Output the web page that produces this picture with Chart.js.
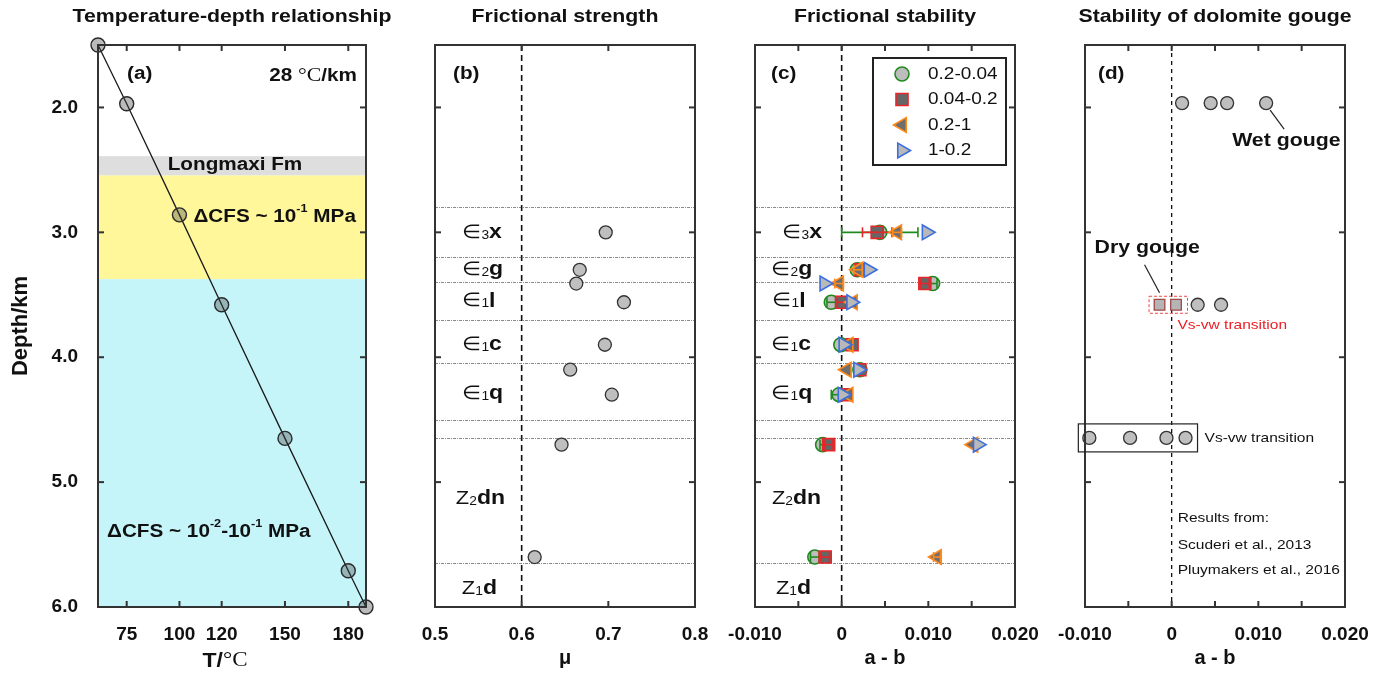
<!DOCTYPE html>
<html>
<head>
<meta charset="utf-8">
<script src="https://cdn.jsdelivr.net/npm/chart.js@4.4.0/dist/chart.umd.min.js"></script>
<style>
  body { margin: 0; background: #fff; width: 1389px; height: 674px; overflow: hidden; position: relative; }
  canvas { position: absolute; left: 0; top: 0; }
</style>
</head>
<body>
<canvas id="pa" width="1389" height="674"></canvas>
<canvas id="pb" width="1389" height="674"></canvas>
<canvas id="pc" width="1389" height="674"></canvas>
<canvas id="pd" width="1389" height="674"></canvas>
<script>
// ---- datos (a) temperatura - profundidad
const tempC = [61.4, 75, 100, 120, 150, 180, 188.4];
const tempDepth = [1.5, 1.97, 2.86, 3.58, 4.65, 5.71, 6.0];
const tempTicks = [75, 100, 120, 150, 180];
const depthTicks = [2, 3, 4, 5, 6];
const bandTop = [2.39, 2.545, 3.375];
const bandBottom = [2.545, 3.375, 6.0];

// ---- datos (b) y (c): muestras por profundidad
const sampleDepth = [3.0, 3.3, 3.41, 3.56, 3.9, 4.1, 4.3, 4.7, 5.6];
const mu = [0.697, 0.667, 0.663, 0.718, 0.696, 0.656, 0.704, 0.646, 0.615];
const layerLines = [2.8, 3.2, 3.4, 3.7, 4.05, 4.5, 4.65, 5.65];
const formSym = ['∈', '∈', '∈', '∈', '∈', 'Z', 'Z'];
const formSub = ['3', '2', '1', '1', '1', '2', '1'];
const formName = ['x', 'g', 'l', 'c', 'q', 'dn', 'd'];
const formDepth = [3.0, 3.3, 3.55, 3.9, 4.29, 5.13, 5.85];

const rateLabels = ['0.2-0.04', '0.04-0.2', '0.2-1', '1-0.2'];
const ab1 = [0.0044, 0.0018, 0.0105, -0.0012, -0.0001, 0.0021, -0.0003, -0.0022, -0.0031];
const err1 = [0.0044, 0, 0.0005, 0.0005, 0, 0, 0.0009, 0.0003, 0.0005];
const ab2 = [0.0041, 0.0021, 0.0096, 0.0000, 0.0012, 0.0021, 0.0005, -0.0015, -0.0019];
const err2 = [0.0017, 0, 0.0005, 0.0005, 0, 0, 0, 0.0005, 0.0005];
const ab3 = [0.0064, 0.0019, -0.0003, 0.0013, 0.0008, 0.0006, 0.0008, 0.0152, 0.0110];
const err3 = [0.0005, 0.0005, 0.0005, 0, 0, 0, 0, 0, 0.0004];
const ab4 = [0.0098, 0.0031, -0.0020, 0.0011, 0.0002, 0.0019, 0.0001, 0.0157, null];
const err4 = [0, 0, 0, 0, 0, 0, 0, 0, 0];

// ---- datos (d) dolomita
const wetDepth = 1.965;
const wetAB = [0.0012, 0.0045, 0.0064, 0.0109];
const dryDepth = 3.58;
const dryAB = [-0.0014, 0.0005];
const dryWetAB = [0.0030, 0.0057];
const transDepth = 4.646;
const transAB = [-0.0095, -0.0048, -0.0006, 0.0016];

const abLabelTicks = [-0.01, 0, 0.01, 0.02];
const abTickMarks = [-0.005, 0, 0.005, 0.01, 0.015];

// ---- estilos
const W = 1389, H = 674, XH = 65;
const SANS = '"Liberation Sans", Arial, Helvetica, sans-serif';
const SERIF = '"Liberation Serif", "Times New Roman", serif';
const SX = 1.15;
const B = s => 'bold ' + s + 'px ' + SANS;
const N = s => s + 'px ' + SANS;
const INK = '#111';

function txt(ctx, parts, x, y, align) {
  ctx.save();
  ctx.textBaseline = 'middle';
  ctx.textAlign = 'left';
  let w = 0;
  for (const p of parts) { ctx.font = p[1]; w += ctx.measureText(p[0]).width; }
  w *= SX;
  const x0 = align === 'center' ? x - w / 2 : align === 'right' ? x - w : x;
  ctx.translate(x0, y);
  ctx.scale(SX, 1);
  let cx = 0;
  for (const p of parts) {
    ctx.font = p[1];
    ctx.fillStyle = p[3] || INK;
    ctx.fillText(p[0], cx, p[2] || 0);
    cx += ctx.measureText(p[0]).width;
  }
  ctx.restore();
}

function line(ctx, x1, y1, x2, y2, color, width, dash) {
  ctx.save();
  ctx.strokeStyle = color; ctx.lineWidth = width;
  ctx.setLineDash(dash || []);
  ctx.beginPath(); ctx.moveTo(x1, y1); ctx.lineTo(x2, y2); ctx.stroke();
  ctx.restore();
}

function drawFormations(chart, xVal, shift) {
  const ctx = chart.ctx, xs = chart.scales.x, ys = chart.scales.y;
  formName.forEach((n, i) => {
    const x = xs.getPixelForValue(xVal) + (shift[i] || 0);
    const y = ys.getPixelForValue(formDepth[i]);
    txt(ctx, [[formSym[i], N(19)], [formSub[i], N(12), 3], [n, B(20)]], x, y, 'left');
  });
}

const deco = {
  id: 'deco',
  beforeDatasetsDraw(chart, args, o) {
    const ctx = chart.ctx, a = chart.chartArea, xs = chart.scales.x, ys = chart.scales.y;
    if (o.bands) {
      o.bands.forEach((c, i) => {
        const y1 = ys.getPixelForValue(bandTop[i]), y2 = ys.getPixelForValue(bandBottom[i]);
        ctx.fillStyle = c;
        ctx.fillRect(a.left, y1, a.right - a.left, y2 - y1);
      });
    }
    if (o.layers) {
      layerLines.forEach(d => {
        const y = Math.round(ys.getPixelForValue(d)) + 0.5;
        line(ctx, a.left, y, a.right, y, '#8a8a8a', 1, [3, 1, 1, 1]);
      });
    }
    if (o.vDash !== undefined) {
      const x = xs.getPixelForValue(o.vDash);
      line(ctx, x, a.top, x, a.bottom, '#111', o.dashW || 1.6, o.dash || [6, 4]);
    }
  },
  afterDatasetDraw(chart, args) {
    const ds = chart.data.datasets[args.index];
    if (!ds.errBars) return;
    const ctx = chart.ctx, xs = chart.scales.x, ys = chart.scales.y;
    ds.data.forEach(p => {
      if (!p.e) return;
      const x1 = xs.getPixelForValue(p.x - p.e), x2 = xs.getPixelForValue(p.x + p.e);
      const y = ys.getPixelForValue(p.y);
      line(ctx, x1, y, x2, y, ds.borderColor, 1.6);
      line(ctx, x1, y - 5, x1, y + 5, ds.borderColor, 1.6);
      line(ctx, x2, y - 5, x2, y + 5, ds.borderColor, 1.6);
    });
  },
  afterDraw(chart, args, o) {
    const ctx = chart.ctx, a = chart.chartArea, xs = chart.scales.x, ys = chart.scales.y;
    // marco
    ctx.save();
    ctx.strokeStyle = '#333'; ctx.lineWidth = 2;
    ctx.strokeRect(a.left, a.top, a.right - a.left, a.bottom - a.top);
    ctx.restore();
    // ticks hacia adentro
    (o.xMarks || []).forEach(v => {
      const x = xs.getPixelForValue(v);
      line(ctx, x, a.bottom, x, a.bottom - 6, '#333', 2);
      line(ctx, x, a.top, x, a.top + 6, '#333', 2);
    });
    [2, 3, 4, 5].forEach(v => {
      const y = ys.getPixelForValue(v);
      line(ctx, a.left, y, a.left + 6, y, '#333', 2);
      line(ctx, a.right, y, a.right - 6, y, '#333', 2);
    });
    // titulo del panel y letra
    txt(ctx, [[o.title, B(18.5)]], (a.left + a.right) / 2, 17, 'center');
    txt(ctx, [[o.letter, B(18)]], a.left + o.letterDx, a.top + 29, 'left');
    if (o.extra) o.extra(chart, ctx, a, xs, ys);
  }
};

function tickFont() { return { family: SANS, size: 19, weight: 'bold' }; }

function makeChart(id, area, cfg) {
  const yW = cfg.yAxis ? 90 : 0;
  return new Chart(document.getElementById(id), {
    type: 'scatter',
    data: { datasets: cfg.datasets },
    options: {
      responsive: false,
      animation: false,
      events: [],
      layout: { padding: { left: area[0] - yW, top: area[1], right: W - area[2], bottom: H - area[3] - XH } },
      plugins: { legend: { display: false }, tooltip: { enabled: false }, deco: cfg.deco },
      scales: {
        x: {
          type: 'linear', min: cfg.xMin, max: cfg.xMax,
          afterBuildTicks: s => { s.ticks = cfg.xLabels.map(v => ({ value: v })); },
          afterFit: s => { s.height = XH; },
          grid: { display: false, drawTicks: false },
          border: { display: false },
          ticks: { font: tickFont(), color: INK, padding: 16, maxRotation: 0, autoSkip: false, callback: cfg.xFmt },
          title: { display: !!cfg.xTitle, text: cfg.xTitle, color: INK, font: { family: SANS, size: 20, weight: 'bold' }, padding: { top: 0, bottom: 2 } }
        },
        y: cfg.yAxis ? {
          type: 'linear', reverse: true, min: 1.5, max: 6.0,
          afterBuildTicks: s => { s.ticks = depthTicks.map(v => ({ value: v })); },
          afterFit: s => { s.width = yW; },
          grid: { display: false, drawTicks: false },
          border: { display: false },
          ticks: { font: tickFont(), color: INK, padding: 20, callback: v => v.toFixed(1) },
          title: { display: true, text: 'Depth/km', color: INK, font: { family: SANS, size: 22, weight: 'bold' }, padding: 0 }
        } : { type: 'linear', reverse: true, min: 1.5, max: 6.0, display: false }
      }
    },
    plugins: [deco]
  });
}

const grayPt = { pointRadius: 6.5, pointBackgroundColor: '#bfbfbf', pointBorderColor: '#333', pointBorderWidth: 1.3, showLine: false };
const abFmt = v => (v === 0 ? '0' : v.toFixed(3));

// ---- (a)
makeChart('pa', [98, 45, 366, 607], {
  yAxis: true,
  xMin: 61.4, xMax: 188.4, xLabels: tempTicks, xFmt: v => String(v), xTitle: '',
  datasets: [{
    data: tempC.map((t, i) => ({ x: t, y: tempDepth[i] })),
    showLine: true, borderColor: '#1a1a1a', borderWidth: 1.3,
    pointRadius: 7, pointBackgroundColor: 'rgba(60,60,60,0.35)', pointBorderColor: '#2a2a2a', pointBorderWidth: 1.4,
    clip: false
  }],
  deco: {
    title: 'Temperature-depth relationship', letter: '(a)', letterDx: 29,
    bands: ['#dedede', '#fff79a', '#c5f4f9'],
    xMarks: tempTicks,
    extra(chart, ctx, a, xs, ys) {
      txt(ctx, [['28 ', B(18)], ['°C', '19px ' + SERIF], ['/km', B(18)]], a.right - 9, a.top + 31, 'right');
      const gy = (ys.getPixelForValue(bandTop[0]) + ys.getPixelForValue(bandBottom[0])) / 2;
      txt(ctx, [['Longmaxi Fm', B(18)]], (a.left + a.right) / 2 + 3, gy - 1, 'center');
      txt(ctx, [['ΔCFS ~ 10', B(18)], ['-1', B(11), -8], [' MPa', B(18)]],
        xs.getPixelForValue(tempC[2]) + 14, ys.getPixelForValue(tempDepth[2]) + 2, 'left');
      txt(ctx, [['ΔCFS ~ 10', B(18)], ['-2', B(11), -8], ['-10', B(18)], ['-1', B(11), -8], [' MPa', B(18)]],
        a.left + 9, ys.getPixelForValue(5.4), 'left');
      // eje x: T/°C
      txt(ctx, [['T/', B(20)], ['°C', '20px ' + SERIF]], (a.left + a.right) / 2 - 7, 661, 'center');
    }
  }
});

// ---- (b)
makeChart('pb', [435, 45, 695, 607], {
  xMin: 0.5, xMax: 0.8, xLabels: [0.5, 0.6, 0.7, 0.8], xFmt: v => v.toFixed(1), xTitle: 'μ',
  datasets: [Object.assign({ data: sampleDepth.map((d, i) => ({ x: mu[i], y: d })) }, grayPt, { pointRadius: 6.5 })],
  deco: {
    title: 'Frictional strength', letter: '(b)', letterDx: 18,
    layers: true, vDash: 0.6, xMarks: [0.6, 0.7],
    extra(chart) { drawFormations(chart, 0.531, [0, 0, 0, 0, 0, -6, 0]); }
  }
});

// ---- (c)
function rateSet(i, vals, errs, style) {
  return Object.assign({
    label: rateLabels[i],
    data: sampleDepth.map((d, k) => ({ x: vals[k], y: d, e: errs[k] })).filter(p => p.x !== null),
    errBars: true, showLine: false, borderWidth: 1.6, pointBorderWidth: 1.6
  }, style);
}
const rateStyles = [
  { pointStyle: 'circle', pointRadius: 7, backgroundColor: '#bdbdbd', borderColor: '#1f8a1f', order: 4 },
  { pointStyle: 'rect', pointRadius: 8.5, backgroundColor: '#666666', borderColor: '#e8262a', order: 3 },
  { pointStyle: 'triangle', rotation: -90, pointRadius: 8.5, backgroundColor: '#6e6e6e', borderColor: '#ff8a1c', order: 2 },
  { pointStyle: 'triangle', rotation: 90, pointRadius: 8.5, backgroundColor: '#b9b9b9', borderColor: '#3b6fe0', order: 1 }
];
rateStyles.forEach(s => { s.pointBackgroundColor = s.backgroundColor; s.pointBorderColor = s.borderColor; s.pointRotation = s.rotation || 0; });

makeChart('pc', [755, 45, 1015, 607], {
  xMin: -0.01, xMax: 0.02, xLabels: abLabelTicks, xFmt: abFmt, xTitle: 'a - b',
  datasets: [
    rateSet(0, ab1, err1, rateStyles[0]),
    rateSet(1, ab2, err2, rateStyles[1]),
    rateSet(2, ab3, err3, rateStyles[2]),
    rateSet(3, ab4, err4, rateStyles[3])
  ],
  deco: {
    title: 'Frictional stability', letter: '(c)', letterDx: 16,
    layers: true, vDash: 0, xMarks: abTickMarks,
    extra(chart, ctx, a) {
      drawFormations(chart, -0.00816, [11, 0, 1, 0, 0, 1, 5]);
      // leyenda
      const bx = a.right - 142, by = a.top + 13, bw = 133, bh = 107;
      ctx.save();
      ctx.strokeStyle = '#222'; ctx.lineWidth = 2;
      ctx.strokeRect(bx, by, bw, bh);
      ctx.restore();
      chart.data.datasets.forEach((ds, i) => {
        const y = by + 16 + i * 25.5;
        ctx.save();
        ctx.fillStyle = ds.backgroundColor; ctx.strokeStyle = ds.borderColor; ctx.lineWidth = 1.6;
        Chart.helpers.drawPoint(ctx, { pointStyle: ds.pointStyle, radius: ds.pointRadius, rotation: ds.rotation || 0, borderWidth: 1.6 }, bx + 29, y);
        ctx.restore();
        txt(ctx, [[ds.label, N(16.5)]], bx + 55, y, 'left');
      });
    }
  }
});

// ---- (d)
makeChart('pd', [1085, 45, 1345, 607], {
  xMin: -0.01, xMax: 0.02, xLabels: abLabelTicks, xFmt: abFmt, xTitle: 'a - b',
  datasets: [
    Object.assign({ data: wetAB.map(v => ({ x: v, y: wetDepth })) }, grayPt, { pointRadius: 6.5 }),
    Object.assign({ data: dryWetAB.map(v => ({ x: v, y: dryDepth })) }, grayPt, { pointRadius: 6.5 }),
    { data: dryAB.map(v => ({ x: v, y: dryDepth })), showLine: false, pointStyle: 'rect', pointRadius: 7.5,
      pointBackgroundColor: '#b5b5b5', pointBorderColor: '#a0484a', pointBorderWidth: 1.3 },
    Object.assign({ data: transAB.map(v => ({ x: v, y: transDepth })), clip: false }, grayPt, { pointRadius: 6.5 })
  ],
  deco: {
    title: 'Stability of dolomite gouge', letter: '(d)', letterDx: 13,
    vDash: 0, dash: [4, 4], dashW: 1.3, xMarks: abTickMarks,
    extra(chart, ctx, a, xs, ys) {
      const px = v => xs.getPixelForValue(v);
      // wet gouge
      const wx = px(wetAB[3]), wy = ys.getPixelForValue(wetDepth);
      line(ctx, wx + 4, wy + 7, wx + 18, wy + 26, '#222', 1.2);
      txt(ctx, [['Wet gouge', B(18.5)]], wx - 34, wy + 38, 'left');
      // dry gouge
      const dx0 = px(dryAB[0]), dx1 = px(dryAB[1]), dy = ys.getPixelForValue(dryDepth);
      line(ctx, dx0 - 15, dy - 40, dx0, dy - 12, '#222', 1.2);
      txt(ctx, [['Dry gouge', B(18.5)]], dx0 - 65, dy - 57, 'left');
      ctx.save();
      ctx.strokeStyle = '#f04848'; ctx.lineWidth = 1; ctx.setLineDash([3, 2]);
      ctx.strokeRect(dx0 - 10.5, dy - 8.5, dx1 - dx0 + 22, 17);
      ctx.restore();
      txt(ctx, [['Vs-vw transition', N(13.5), 0, '#ee1c24']], dx1 + 1.5, dy + 21, 'left');
      // transicion
      const t0 = px(transAB[0]), t1 = px(transAB[3]), ty = ys.getPixelForValue(transDepth);
      ctx.save();
      ctx.strokeStyle = '#222'; ctx.lineWidth = 1.2;
      ctx.strokeRect(t0 - 11, ty - 14, t1 - t0 + 23, 28);
      ctx.restore();
      txt(ctx, [['Vs-vw transition', N(13.5)]], t1 + 19, ty, 'left');
      // fuentes
      const rx = px(0) + 6;
      txt(ctx, [['Results from:', N(13.5)]], rx, ys.getPixelForValue(5.29), 'left');
      txt(ctx, [['Scuderi et al., 2013', N(13.5)]], rx, ys.getPixelForValue(5.504), 'left');
      txt(ctx, [['Pluymakers et al., 2016', N(13.5)]], rx, ys.getPixelForValue(5.704), 'left');
    }
  }
});
</script>
</body>
</html>
